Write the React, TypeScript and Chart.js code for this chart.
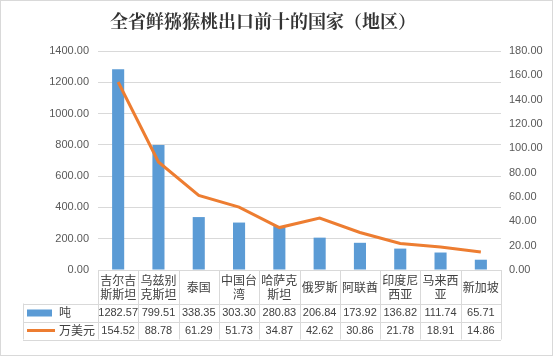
import React, { useEffect, useRef } from "react";
import { Chart, registerables } from "chart.js";

Chart.register(...registerables);

const chartTitle = "全省鲜猕猴桃出口前十的国家（地区）";
const categories: string[][] = [
  ["吉尔吉", "斯斯坦"],
  ["乌兹别", "克斯坦"],
  ["泰国"],
  ["中国台", "湾"],
  ["哈萨克", "斯坦"],
  ["俄罗斯"],
  ["阿联酋"],
  ["印度尼", "西亚"],
  ["马来西", "亚"],
  ["新加坡"],
];
const seriesNames = ["吨", "万美元"];
const tonnes = [1282.57, 799.51, 338.35, 303.3, 280.83, 206.84, 173.92, 136.82, 111.74, 65.71];
const usd = [154.52, 88.78, 61.29, 51.73, 34.87, 42.62, 30.86, 21.78, 18.91, 14.86];
const leftMax = 1400;
const leftStep = 200;
const rightMax = 180;
const rightStep = 20;

const BLUE = "#5B9BD5";
const ORANGE = "#ED7D31";
const GRID = "#D9D9D9";
const CJK = '"Noto Sans CJK SC", "Noto Sans", sans-serif';
const LAT = '"Liberation Sans", Arial, sans-serif';

const tablePlugin = {
  id: "tablePlugin",
  afterDraw(chart: any) {
    const { ctx, chartArea } = chart;
    const xs = chart.scales.x;
    const n = categories.length;
    const colW = (chartArea.right - chartArea.left) / n;
    const top = chartArea.bottom;
    const r1 = top + 33.5;
    const r2 = r1 + 18;
    const r3 = r2 + 18;
    const left0 = 23;
    ctx.save();
    // outer border
    ctx.strokeStyle = GRID;
    ctx.lineWidth = 1;
    ctx.strokeRect(0.5, 0.5, chart.width - 1, chart.height - 1);
    // title
    ctx.fillStyle = "#333333";
    ctx.font = `bold 18px "Noto Serif CJK SC", ${CJK}`;
    ctx.textAlign = "center";
    ctx.textBaseline = "middle";
    ctx.fillText(chartTitle, 263, 21);
    // table grid
    ctx.beginPath();
    for (let i = 0; i <= n; i++) {
      const xx = Math.round(chartArea.left + i * colW) + 0.5;
      ctx.moveTo(xx, top);
      ctx.lineTo(xx, r3);
    }
    ctx.moveTo(left0 + 0.5, r1);
    ctx.lineTo(left0 + 0.5, r3);
    for (const y of [r1, r2, r3]) {
      const yy = Math.round(y) + 0.5;
      ctx.moveTo(left0, yy);
      ctx.lineTo(chartArea.right, yy);
    }
    ctx.stroke();
    // legend keys
    ctx.fillStyle = BLUE;
    ctx.fillRect(27, r1 + 6, 25, 7);
    ctx.strokeStyle = ORANGE;
    ctx.lineWidth = 3;
    ctx.beginPath();
    ctx.moveTo(27, (r2 + r3) / 2);
    ctx.lineTo(55, (r2 + r3) / 2);
    ctx.stroke();
    ctx.fillStyle = "#404040";
    ctx.font = `12px ${CJK}`;
    ctx.textAlign = "left";
    ctx.textBaseline = "middle";
    ctx.fillText(seriesNames[0], 59, (r1 + r2) / 2);
    ctx.fillText(seriesNames[1], 59, (r2 + r3) / 2);
    // values
    ctx.font = `11px ${LAT}`;
    ctx.textAlign = "center";
    for (let i = 0; i < n; i++) {
      const cx = xs.getPixelForValue(i);
      ctx.fillText(tonnes[i].toFixed(2), cx, (r1 + r2) / 2 + 0.5);
      ctx.fillText(usd[i].toFixed(2), cx, (r2 + r3) / 2 + 0.5);
    }
    ctx.restore();
  },
};

export default function App() {
  const ref = useRef<HTMLCanvasElement>(null);
  useEffect(() => {
    if (!ref.current) return;
    const chart = new Chart(ref.current, {
      type: "bar",
      data: {
        labels: categories as any,
        datasets: [
          {
            type: "line",
            label: seriesNames[1],
            data: usd,
            yAxisID: "y1",
            borderColor: ORANGE,
            backgroundColor: ORANGE,
            borderWidth: 3,
            pointRadius: 0,
            tension: 0,
            order: 0,
          } as any,
          {
            type: "bar",
            label: seriesNames[0],
            data: tonnes,
            yAxisID: "y",
            backgroundColor: BLUE,
            categoryPercentage: 1,
            barPercentage: 0.3,
            order: 1,
          },
        ],
      },
      options: {
        animation: false,
        responsive: false,
        layout: { padding: { top: 51, left: 0, right: 0, bottom: 0 } },
        plugins: {
          legend: { display: false },
          title: { display: false },
          tooltip: { enabled: false },
        },
        scales: {
          x: {
            grid: { display: false, drawTicks: false },
            border: { display: false },
            ticks: {
              font: { family: CJK, size: 12, lineHeight: 1.2 },
              color: "#404040",
              padding: 10,
              crossAlign: "center",
              maxRotation: 0,
              minRotation: 0,
              autoSkip: false,
            },
            afterFit: (s: any) => {
              s.height = 86;
            },
          },
          y: {
            position: "left",
            min: 0,
            max: leftMax,
            ticks: {
              stepSize: leftStep,
              callback: (v: any) => Number(v).toFixed(2),
              color: "#595959",
              font: { family: LAT, size: 11 },
              padding: 9,
            },
            grid: { color: GRID, drawTicks: false },
            border: { display: false },
            afterFit: (s: any) => {
              s.width = 98;
            },
          },
          y1: {
            position: "right",
            min: 0,
            max: rightMax,
            ticks: {
              stepSize: rightStep,
              callback: (v: any) => Number(v).toFixed(2),
              color: "#595959",
              font: { family: LAT, size: 11 },
              padding: 8,
            },
            grid: { display: false, drawTicks: false },
            border: { display: false },
            afterFit: (s: any) => {
              s.width = 52;
            },
          },
        },
      } as any,
      plugins: [tablePlugin],
    });
    return () => chart.destroy();
  }, []);
  return (
    <div style={{ position: "fixed", left: 0, top: 0, width: 553, height: 356, background: "#fff" }}>
      <canvas ref={ref} width={553} height={356} style={{ display: "block" }} />
    </div>
  );
}
